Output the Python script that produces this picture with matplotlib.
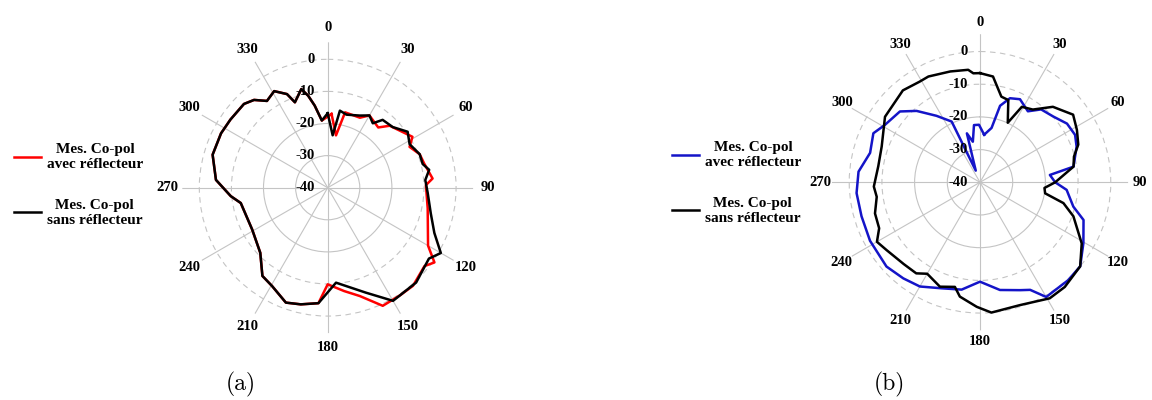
import numpy as np
import matplotlib
matplotlib.use("Agg")
import matplotlib.pyplot as plt
from matplotlib.lines import Line2D

# angles in degrees (clockwise from top), levels in dB
ang_a_avec = [3, 9, 13, 24.7, 30, 40, 45, 59, 63.5, 70, 76, 85, 88.5, 101.6, 120, 125, 129, 139, 146, 155,
              163.5, 171, 180, 184.6, 193, 200, 209.5, 216.5, 226, 241, 260, 265, 274, 286, 297, 305, 315,
              320, 325, 331, 336.5, 339, 345, 348, 351, 355]
db_a_avec = [-17, -23.5, -15.9, -16, -14, -15.5, -12.7, -9.2, -11.5, -9.5, -9, -7.2, -9.4, -8.2, -3.9, 0.6,
             -1.2, 0.5, 0.4, 0.6, -4.8, -7.4, -9.9, -3.9, -2.7, -1.9, -4.8, -5.8, -10.8, -13.1, -12.5, -9.7,
             -5.1, -2.7, -2.7, -3.0, -3.1, -4.3, -7.0, -5.6, -8.2, -11.5, -8.2, -10.7, -14.1, -19]

ang_a_sans = [0, 5.4, 9, 14.5, 24, 30, 35, 39, 47, 55, 62, 70, 76, 80, 85.5, 93, 104, 113, 120, 125, 137, 150,
              160, 175, 184.6, 193, 200, 209.5, 216.5, 226, 241, 260, 265, 274, 286, 297, 305, 315, 320, 325,
              331, 336.5, 339, 345, 348, 351, 355]
db_a_sans = [-16.8, -23.6, -15.7, -16.5, -15.4, -14, -15.5, -12.8, -12.3, -9.6, -11.1, -9.5, -9.5, -7.9, -9.5,
             -8.8, -6.9, -3.9, 0.7, -1.5, 0.4, 0.7, -5.2, -10.3, -3.9, -2.7, -1.9, -4.8, -5.8, -10.8, -13.1,
             -12.5, -9.7, -5.1, -2.7, -2.7, -3.0, -3.1, -4.3, -7.0, -5.6, -8.2, -11.5, -8.2, -10.7, -14.1, -19]

ang_b_avec = [5, 12, 14.7, 19.6, 25.7, 34, 40, 48, 56, 63.5, 69.7, 80.5, 84, 90, 95, 104.6, 110, 120.5, 130,
              138, 150, 155, 159.6, 169.5, 180, 189.7, 200, 210, 218.6, 228, 242, 254, 265, 275, 285, 294.7,
              301, 311.5, 318.4, 326.8, 335, 340, 345, 350, 354, 359]
db_b_avec = [-25.4, -23, -15.8, -12.7, -11.8, -13.8, -10.9, -9.9, -7.9, -7.5, -8.5, -11, -18.5, -17, -13.4,
             -10.5, -6.3, -3.3, 0, 0.3, 0.5, -3.7, -4.8, -6.5, -9.6, -6.7, -5.5, -3.2, -2.4, -1.5, -1.9, -2.3,
             -2.1, -2.7, -5.2, -4.1, -6, -7.3, -10.8, -15.7, -19.5, -36.2, -24.5, -27.4, -22.4, -22.4]

ang_b_sans = [0, 7, 14, 19, 25, 29, 36, 44, 54, 61.6, 69, 74.7, 80.5, 90, 95, 99.6, 104, 110, 121, 130, 141,
              149, 162, 175, 181.5, 190, 193.5, 201, 210, 215, 223, 234, 240, 245.5, 253.5, 262, 267.7, 279,
              290, 304.6, 320, 329, 334, 345, 354, 356.5]
db_b_sans = [-6.6, -7.4, -13, -13.4, -19.9, -13.6, -12.5, -7.9, -4.8, -6.3, -7.8, -10.2, -11, -17, -20.2,
             -19.8, -13.7, -9.6, -3.7, 0, 1.2, 1.4, -0.5, 0, -1.9, -4.5, -7.1, -5.8, -7.7, -6, -5.8, -4.7,
             -3.6, -6.1, -6.5, -8.1, -7.5, -8.5, -8, -4.7, -3.3, -4.1, -4, -4.9, -5.4, -6.6]

theta_ticks = list(range(0, 360, 30))
r_ticks = [-40, -30, -20, -10, 0]
labels = ["Mes. Co-pol\navec réflecteur", "Mes. Co-pol\nsans réflecteur"]

bold = dict(family="Liberation Serif", weight="bold", size=10.5)
grid_col = "#c4c4c4"


def closed(a, r):
    return np.deg2rad(np.append(a, a[0])), np.append(r, r[0])


def panel(rect, series, lab_r):
    ax = fig.add_axes(rect, projection="polar")
    ax.set_theta_zero_location("N")
    ax.set_theta_direction(-1)
    ax.set_ylim(-40, 5.3)
    ax.spines["polar"].set_visible(False)
    ax.set_xticks(np.deg2rad(theta_ticks))
    ax.set_xticklabels([])
    ax.set_yticks(r_ticks[1:])
    ax.set_yticklabels([])
    ax.grid(True, color=grid_col, lw=0.8)
    for i, gl in enumerate(ax.yaxis.get_gridlines()):
        if r_ticks[1:][i] >= -10:
            gl.set_linestyle((0, (5, 4)))
    for t in theta_ticks:
        ax.text(np.deg2rad(t), lab_r, str(t), ha="center", va="center", clip_on=False, **bold)
    for r in r_ticks:
        ax.annotate(str(r), (0, r), xytext=(-9, 0), textcoords="offset points",
                    ha="right", va="center", **bold)
    for a, r, c in series:
        th, rr = closed(a, r)
        ax.plot(th, rr, color=c, lw=1.8)
    return ax


fig = plt.figure(figsize=(11.52, 4), dpi=100)

panel([182.3 / 1152, 66.9 / 400, 290.8 / 1152, 290.8 / 400],
      [(ang_a_avec, db_a_avec, "#ff0000"), (ang_a_sans, db_a_sans, "black")], 9.8)
panel([831.9 / 1152, 69.6 / 400, 296.2 / 1152, 296.2 / 400],
      [(ang_b_avec, db_b_avec, "#1414c8"), (ang_b_sans, db_b_sans, "black")], 8.8)

leg_kw = dict(loc="center left", frameon=False, borderpad=0, borderaxespad=0, handlelength=1.75,
              handletextpad=0.4, labelspacing=1.8, prop=dict(family="Liberation Serif", weight="bold", size=11))
h_a = [Line2D([], [], color="#ff0000", lw=1.8), Line2D([], [], color="black", lw=1.8)]
h_b = [Line2D([], [], color="#1414c8", lw=1.8), Line2D([], [], color="black", lw=1.8)]
leg = fig.legend(h_a, labels, bbox_to_anchor=(14 / 1152, 1 - 185 / 400), **leg_kw)
for t in leg.get_texts():
    t.set_multialignment("center")
leg2 = fig.legend(h_b, labels, bbox_to_anchor=(672 / 1152, 1 - 183 / 400), **leg_kw)
for t in leg2.get_texts():
    t.set_multialignment("center")

fig.text(241 / 1152, 1 - 384 / 400, "(a)", family="cmr10", size=17, ha="center", va="center")
fig.text(889 / 1152, 1 - 384 / 400, "(b)", family="cmr10", size=17, ha="center", va="center")

fig.savefig("out.png", dpi=100)
